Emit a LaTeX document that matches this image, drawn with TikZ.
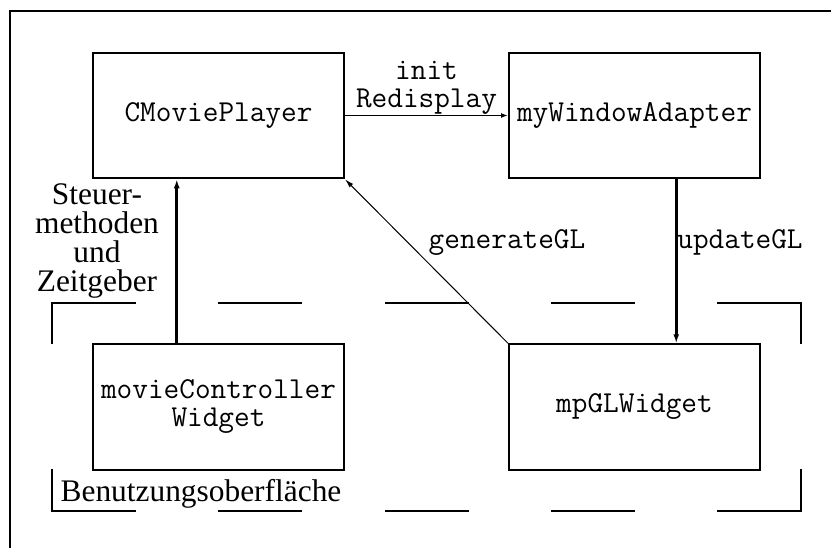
\documentclass[tikz,border=0pt]{standalone}
\usepackage{fontspec}
\setmainfont{Liberation Serif}
\usetikzlibrary{calc,arrows.meta}
\begin{document}
\begin{tikzpicture}[x=0.5pt,y=-0.5pt,
  box/.style={draw, line width=1pt, minimum width=125.5pt, minimum height=62.75pt,
    inner sep=0pt, align=center, font=\ttfamily\fontsize{15.2}{14}\selectfont},
  lbl/.style={inner sep=0pt, align=center, font=\ttfamily\fontsize{15.2}{14}\selectfont},
  txt/.style={inner sep=0pt, align=center, font=\fontsize{15.7}{14.5}\selectfont},
  thickarrow/.style={line width=1.5pt, -{Latex[length=4.5pt,width=3pt]}},
  thinarrow/.style={line width=0.75pt, -{Latex[length=3.5pt,width=2.5pt]}},
  hairarrow/.style={line width=0.5pt, -{Latex[length=4.5pt,width=2.5pt]}},
  groupframe/.style={line width=1pt},
]
\useasboundingbox (0,0) rectangle (831,547);

% page frame, only its top and left edges fall inside the picture
\begin{scope}
  \clip (0,0) rectangle (831,547);
  \draw[line width=1.15pt] (10,11) rectangle (900,600);
\end{scope}

% components
\node[box] (cmp)  at (218.5,115.5) {CMoviePlayer};
\node[box] (mwa)  at (634.5,115.5) {myWindowAdapter};
\node[box] (mcw)  at (218.5,407)   {movieController\\Widget};
\node[box] (mpgl) at (634.5,407)   {mpGLWidget};

% dashed group frame of the user interface
\draw[groupframe] (52,344) -- (52,303) -- (136,303);
\draw[groupframe] (717,303) -- (801,303) -- (801,344);
\draw[groupframe] (52,469) -- (52,511) -- (136,511);
\draw[groupframe] (717,511) -- (801,511) -- (801,469);
\foreach \a/\b in {218/302,385/469,551/635} {
  \draw[groupframe] (\a,303) -- (\b,303);
  \draw[groupframe] (\a,511) -- (\b,511);
}

% connectors
\draw[thinarrow] (cmp.east) -- node[lbl, above] {init\\Redisplay} (mwa.west);
\draw[thickarrow] ($(mwa.south west)!0.665!(mwa.south east)$) -- ($(mpgl.north west)!0.665!(mpgl.north east)$);
\draw[thickarrow] ($(mcw.north west)!0.335!(mcw.north east)$) -- ($(cmp.south west)!0.335!(cmp.south east)$);
\draw[hairarrow] (mpgl.north west) -- (cmp.south east);

% connector labels
\node[lbl, anchor=base] (lgen) at (507,248) {generateGL};
\node[lbl, anchor=base west] (lupd) at (677,248) {updateGL};
\node[txt] (lsteuer) at (97,241) {Steuer-\\methoden\\und\\Zeitgeber};
\node[txt, anchor=base] (lgui) at (201,501.7) {Benutzungsoberfläche};
\end{tikzpicture}
\end{document}
